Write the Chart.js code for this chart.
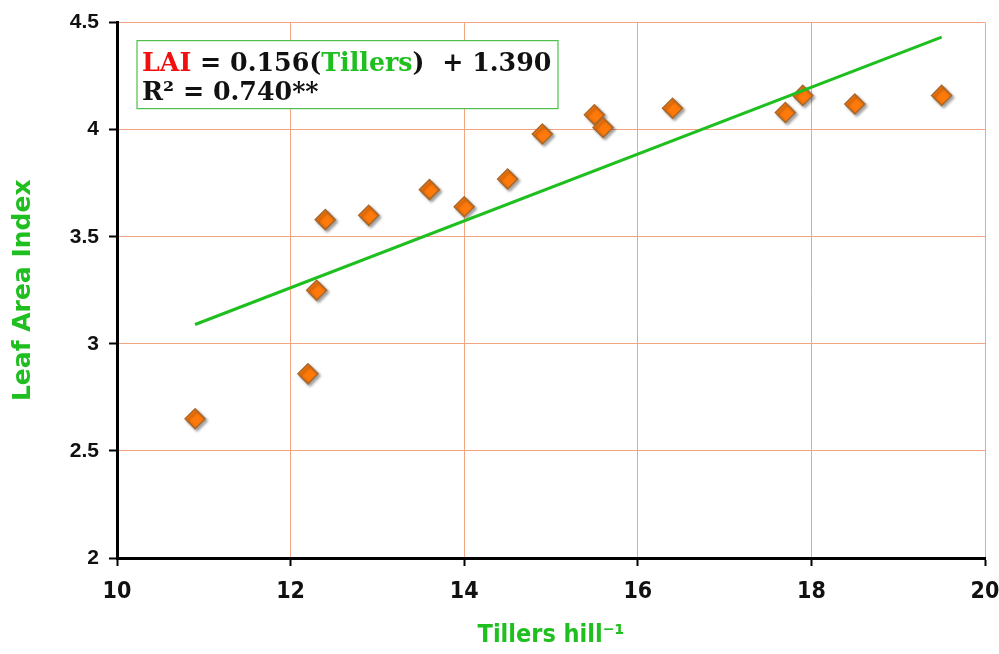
<!DOCTYPE html>
<html>
<head>
<meta charset="utf-8">
<script src="https://cdn.jsdelivr.net/npm/chart.js@4.4.1/dist/chart.umd.min.js"></script>
<style>
  body { margin: 0; background: #fff; }
  #wrap { width: 999px; height: 654px; }
</style>
</head>
<body>
<div id="wrap"><canvas id="lai-chart" width="999" height="654"></canvas></div>
<script>
// tillers per hill vs leaf area index
const tillers = [10.9, 12.2, 12.3, 12.4, 12.9, 13.6, 14.0, 14.5, 14.9, 15.5, 15.6, 16.4, 17.7, 17.9, 18.5, 19.5];
const lai     = [2.65, 2.86, 3.25, 3.58, 3.60, 3.72, 3.64, 3.77, 3.98, 4.07, 4.01, 4.10, 4.08, 4.16, 4.12, 4.16];

// regression: LAI = 0.156(Tillers) + 1.390
const slope = 0.156;
const intercept = 1.390;
const trendX = [10.9, 19.5];

const xTicks = [10, 12, 14, 16, 18, 20];
const yTicks = [2, 2.5, 3, 3.5, 4, 4.5];

const green = '#1fbf1f';
const gridColor = '#f3a482';

const points = tillers.map((t, i) => ({ x: t, y: lai[i] }));
const trend = trendX.map(t => ({ x: t, y: slope * t + intercept }));

// orange diamonds with a soft shadow
const shadowPlugin = {
  id: 'markerShadow',
  beforeDatasetDraw(chart, args) {
    if (args.index !== 1) return;
    const ctx = chart.ctx;
    ctx.save();
    ctx.shadowColor = 'rgba(0,0,0,0.35)';
    ctx.shadowBlur = 3;
    ctx.shadowOffsetX = 2;
    ctx.shadowOffsetY = 2;
  },
  afterDatasetDraw(chart, args) {
    if (args.index !== 1) return;
    chart.ctx.restore();
  }
};

// equation box in the top left corner
const equationBox = {
  id: 'equationBox',
  afterDraw(chart) {
    const ctx = chart.ctx;
    const left = chart.chartArea.left + 20;
    const top = chart.chartArea.top + 18;
    ctx.save();
    ctx.fillStyle = '#fff';
    ctx.fillRect(left, top, 421, 68);
    ctx.strokeStyle = '#4cbf4c';
    ctx.lineWidth = 1.2;
    ctx.strokeRect(left, top, 421, 68);

    ctx.font = 'bold 24px "DejaVu Serif"';
    ctx.textBaseline = 'alphabetic';
    const parts = [
      ['LAI', '#f01010'],
      [' = 0.156(', '#111'],
      ['Tillers', green],
      [')  + 1.390', '#111']
    ];
    let total = parts.reduce((w, p) => w + ctx.measureText(p[0]).width, 0);
    const scale = 410 / total;
    ctx.font = 'bold ' + (24 * scale).toFixed(1) + 'px "DejaVu Serif"';
    let x = left + 5;
    parts.forEach(p => {
      ctx.fillStyle = p[1];
      ctx.fillText(p[0], x, top + 30);
      x += ctx.measureText(p[0]).width;
    });
    ctx.fillStyle = '#111';
    ctx.fillText('R\u00b2 = 0.740**', left + 5, top + 59);
    ctx.restore();
  }
};

new Chart(document.getElementById('lai-chart'), {
  type: 'scatter',
  data: {
    datasets: [
      {
        type: 'line',
        data: trend,
        borderColor: green,
        borderWidth: 3,
        pointRadius: 0,
        fill: false
      },
      {
        data: points,
        pointStyle: 'rectRot',
        pointRadius: 10,
        pointHoverRadius: 10,
        backgroundColor: '#ff7a0a',
        borderColor: '#a8682c',
        borderWidth: 1.5
      }
    ]
  },
  options: {
    responsive: false,
    animation: false,
    layout: { padding: { top: 20, right: 0, left: 0, bottom: 0 } },
    plugins: {
      legend: { display: false },
      tooltip: { enabled: false }
    },
    scales: {
      x: {
        type: 'linear',
        min: 10,
        max: 20,
        afterBuildTicks: s => { s.ticks = xTicks.map(v => ({ value: v })); },
        afterFit: s => { s.height = 96; s.paddingRight = 14; },
        border: { display: true, color: '#000', width: 3 },
        grid: { color: gridColor, lineWidth: 1, tickColor: '#000', tickLength: 8, tickWidth: 2 },
        ticks: {
          color: '#111',
          padding: 12,
          font: { family: '"Liberation Sans Narrow", "DejaVu Sans Condensed", "Roboto Condensed"', size: 23, weight: 'bold' }
        },
        title: {
          display: true,
          text: 'Tillers hill\u207b\u00b9',
          color: green,
          padding: { top: 14 },
          font: { family: '"Liberation Sans Narrow", "DejaVu Sans Condensed", "Roboto Condensed"', size: 25, weight: 'bold' }
        }
      },
      y: {
        min: 2,
        max: 4.5,
        afterBuildTicks: s => { s.ticks = yTicks.map(v => ({ value: v })); },
        afterFit: s => { s.width = 117; },
        border: { display: true, color: '#000', width: 3 },
        grid: { color: gridColor, lineWidth: 1, tickColor: '#000', tickLength: 8, tickWidth: 2 },
        ticks: {
          color: '#111',
          padding: 10,
          callback: v => String(v),
          font: { family: '"Liberation Sans"', size: 21, weight: 'bold' }
        },
        title: {
          display: true,
          text: 'Leaf Area Index',
          color: green,
          padding: { top: 8, bottom: 4 },
          font: { family: '"DejaVu Sans"', size: 25, weight: 'bold' }
        }
      }
    }
  },
  plugins: [shadowPlugin, equationBox]
});
</script>
</body>
</html>
